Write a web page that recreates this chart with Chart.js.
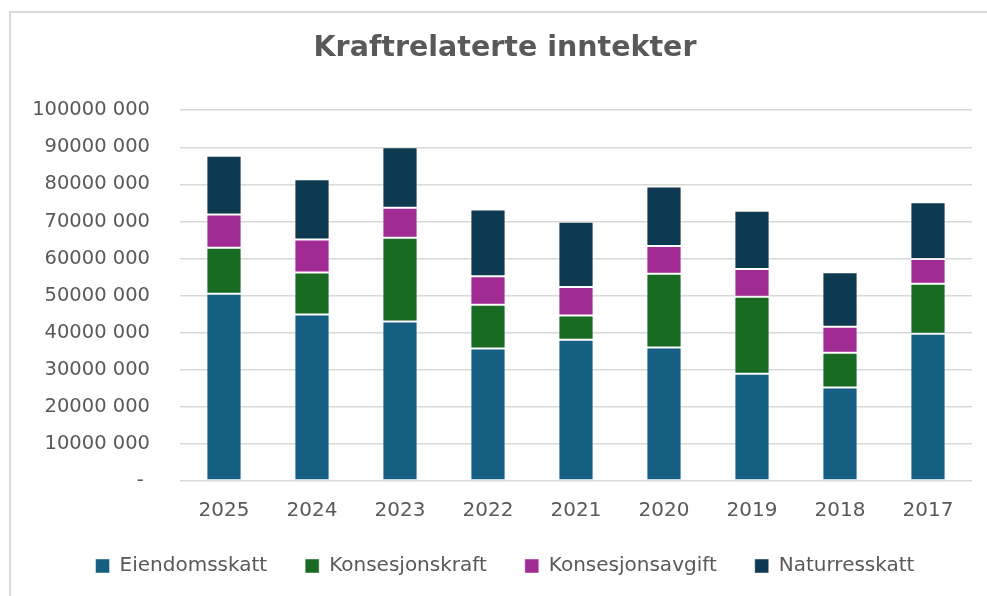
<!DOCTYPE html>
<html>
<head>
<meta charset="utf-8">
<script src="https://cdn.jsdelivr.net/npm/chart.js@4/dist/chart.umd.min.js"></script>
<style>
	html, body {
		margin: 0;
		padding: 0;
		background: #ffffff;
		overflow: hidden;
	}
	.frame {
		position: absolute;
		left: 9px;
		top: 11px;
		width: 1200px;
		height: 800px;
		border-top: 2px solid #d9d9d9;
		border-left: 2px solid #d9d9d9;
	}
	.wrap {
		position: absolute;
		left: 0;
		top: 0;
		width: 987px;
		height: 596px;
	}
</style>
</head>
<body>
<div class="frame"></div>
<div class="wrap"><canvas id="chart" width="987" height="596"></canvas></div>
<script>
const years = ['2025', '2024', '2023', '2022', '2021', '2020', '2019', '2018', '2017'];
const eiendomsskatt = [50500000, 44900000, 43000000, 35700000, 38100000, 36000000, 28900000, 25200000, 39700000];
const konsesjonskraft = [12400000, 11300000, 22600000, 11800000, 6500000, 19900000, 20800000, 9400000, 13500000];
const konsesjonsavgift = [9000000, 8900000, 8100000, 7700000, 7700000, 7500000, 7500000, 7000000, 6700000];
const naturresskatt = [15800000, 16300000, 16300000, 18000000, 17600000, 16000000, 15700000, 14700000, 15300000];

const textColor = '#595959';
const gridColor = '#d9d9d9';
const fontFamily = '"DejaVu Sans", Verdana, sans-serif';

function formatTick(value) {
	if (value === 0) {
		return '- ';
	}
	const thousands = Math.floor(value / 1000);
	const rest = String(value % 1000).padStart(3, '0');
	return thousands + ' ' + rest;
}

function makeDataset(label, data, color) {
	return {
		label: label,
		data: data,
		backgroundColor: color,
		borderColor: 'rgba(255, 255, 255, 0.45)',
		borderWidth: 1,
		borderSkipped: false,
		categoryPercentage: 1,
		barPercentage: 0.4,
	};
}

new Chart(document.getElementById('chart'), {
	type: 'bar',
	data: {
		labels: years,
		datasets: [
			makeDataset('Eiendomsskatt', eiendomsskatt, '#156082'),
			makeDataset('Konsesjonskraft', konsesjonskraft, '#196B24'),
			makeDataset('Konsesjonsavgift', konsesjonsavgift, '#A02B93'),
			makeDataset('Naturresskatt', naturresskatt, '#0E3A51'),
		],
	},
	options: {
		responsive: false,
		animation: false,
		layout: {
			padding: { left: 25, right: 2, top: 0, bottom: 10 },
		},
		plugins: {
			title: {
				display: true,
				text: 'Kraftrelaterte inntekter',
				color: textColor,
				font: { family: fontFamily, size: 28.5, weight: 'bold', lineHeight: 1.2 },
				padding: { top: 31, bottom: 45 },
			},
			legend: {
				position: 'bottom',
				labels: {
					color: textColor,
					font: { family: fontFamily, size: 20 },
					boxWidth: 14,
					boxHeight: 14,
					padding: 38,
				},
			},
			tooltip: { enabled: false },
		},
		scales: {
			x: {
				stacked: true,
				grid: { display: false, drawTicks: false },
				border: { display: false },
				ticks: {
					color: textColor,
					font: { family: fontFamily, size: 20 },
					padding: 18,
					maxRotation: 0,
				},
				afterFit: (scale) => {
					scale.height = 37;
				},
			},
			y: {
				stacked: true,
				min: 0,
				max: 100000000,
				grid: { color: gridColor, lineWidth: 1.4, drawTicks: false },
				border: { display: false },
				ticks: {
					stepSize: 10000000,
					color: textColor,
					font: { family: fontFamily, size: 19.5 },
					padding: 30,
					callback: (value) => formatTick(value),
				},
				afterFit: (scale) => {
					scale.width = 155;
				},
			},
			spacer: {
				position: 'right',
				grid: { display: false, drawTicks: false },
				border: { display: false },
				ticks: { display: false },
				afterFit: (scale) => {
					scale.width = 13;
				},
			},
		},
	},
});
</script>
</body>
</html>
